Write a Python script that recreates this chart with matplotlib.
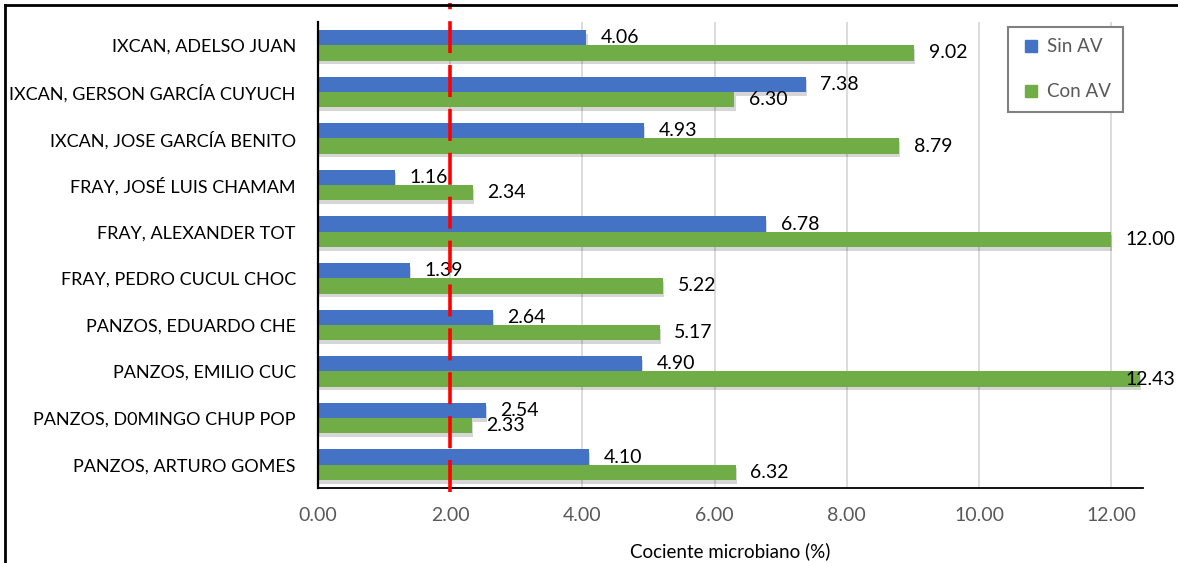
import matplotlib
matplotlib.use("Agg")
import matplotlib.pyplot as plt
import matplotlib.patheffects as pe
from matplotlib.lines import Line2D
import numpy as np

# Data
productores = [
    "IXCAN, ADELSO JUAN",
    "IXCAN, GERSON GARCÍA CUYUCH",
    "IXCAN, JOSE GARCÍA BENITO",
    "FRAY, JOSÉ LUIS CHAMAM",
    "FRAY, ALEXANDER TOT",
    "FRAY, PEDRO CUCUL CHOC",
    "PANZOS, EDUARDO CHE",
    "PANZOS, EMILIO CUC",
    "PANZOS, D0MINGO CHUP POP",
    "PANZOS, ARTURO GOMES",
]
sin_av = [4.06, 7.38, 4.93, 1.16, 6.78, 1.39, 2.64, 4.90, 2.54, 4.10]
con_av = [9.02, 6.30, 8.79, 2.34, 12.00, 5.22, 5.17, 12.43, 2.33, 6.32]
series_labels = ["Sin AV", "Con AV"]
x_ticks = [0, 2, 4, 6, 8, 10, 12]
umbral = 2.0

FONT = ["Lato", "DejaVu Sans"]
plt.rcParams["font.family"] = FONT
plt.rcParams["lines.scale_dashes"] = False

W, H = 1178, 563
fig = plt.figure(figsize=(W / 100, H / 100), dpi=100)
ax = fig.add_axes([318 / W, (H - 488) / H, (1143 - 318) / W, (488 - 22) / H])

blue = "#4472C4"
green = "#70AD47"
y = np.arange(len(productores))
bh = 0.33
shadow = [pe.SimplePatchShadow(offset=(0.8, -2.6), shadow_rgbFace="black", alpha=0.16), pe.Normal()]

b1 = ax.barh(y - bh / 2, sin_av, height=bh, color=blue, zorder=3)
b2 = ax.barh(y + bh / 2, con_av, height=bh, color=green, zorder=3)
for bars in (b1, b2):
    for p in bars:
        p.set_path_effects(shadow)

xmax = 12.48
ax.set_xlim(0, xmax)
ax.set_ylim(len(productores) - 0.5, -0.5)

# value labels to the right of each bar
for vals, off in ((sin_av, -bh / 2), (con_av, bh / 2)):
    for i, v in enumerate(vals):
        ax.annotate(f"{v:.2f}", xy=(min(v, 12.0), i + off), xytext=(10.5, 0),
                    textcoords="offset points", ha="left", va="center",
                    fontsize=14, color="black", zorder=5, annotation_clip=False)

# axes styling
for s in ("top", "right"):
    ax.spines[s].set_visible(False)
ax.spines["left"].set_linewidth(1.6)
ax.spines["bottom"].set_linewidth(1.3)
ax.spines["left"].set_zorder(6)
ax.set_yticks(y)
ax.set_yticklabels(productores, fontsize=13, color="black")
ax.set_xticks(x_ticks)
ax.set_xticklabels([f"{t:.2f}" for t in x_ticks], fontsize=14, color="#595959")
ax.tick_params(axis="y", length=0, pad=16)
ax.tick_params(axis="x", length=0, pad=14)
ax.xaxis.grid(True, color="#D9D9D9", linewidth=1.3, zorder=0)
ax.set_axisbelow(True)
ax.set_xlabel("Cociente microbiano (%)", fontsize=13.5, color="black", labelpad=13)

# threshold line
ax.plot([umbral, umbral], [-0.0086, 1.041], color="#FF0000", linewidth=2.6,
        linestyle=(0, (23, 8.6)), transform=ax.get_xaxis_transform(),
        clip_on=False, zorder=7, solid_capstyle="butt", dash_capstyle="butt")

# legend
handles = [Line2D([], [], marker="s", linestyle="none", markersize=8.5, color=c)
           for c in (blue, green)]
leg = fig.legend(handles, series_labels, loc="upper left",
                 bbox_to_anchor=(1008 / W, 1 - 27 / H), borderaxespad=0,
                 fontsize=13.5, labelspacing=1.5, handletextpad=0.3,
                 borderpad=0.6, handlelength=1.2, fancybox=False, framealpha=1)
leg.get_frame().set_edgecolor("#808080")
leg.get_frame().set_linewidth(1.5)
for t in leg.get_texts():
    t.set_color("#595959")

# outer frame (left and top edges)
fig.add_artist(Line2D([5 / W, 5 / W], [0, 1 - 5 / H], color="black", linewidth=2,
                      transform=fig.transFigure))
fig.add_artist(Line2D([5 / W, 1], [1 - 5 / H, 1 - 5 / H], color="black", linewidth=2,
                      transform=fig.transFigure))

fig.savefig("out.png", dpi=100)
